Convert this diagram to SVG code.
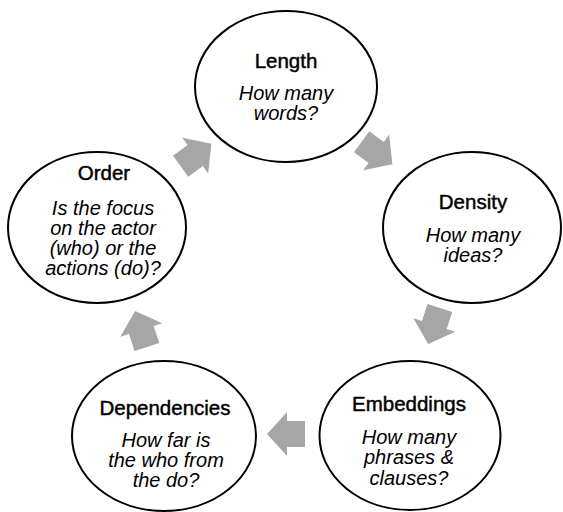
<svg xmlns="http://www.w3.org/2000/svg" width="563" height="512" viewBox="0 0 563 512">
<style>
.node ellipse{fill:#fff;stroke:#000;stroke-width:2}
.t{font-family:"Liberation Sans",Arial,sans-serif;font-size:20.5px;font-weight:normal;text-anchor:middle;fill:#000;stroke:#000;stroke-width:0.45}
.q{font-family:"Liberation Sans",Arial,sans-serif;font-size:20px;font-style:italic;text-anchor:middle;fill:#000}
.arr{fill:#a6a6a6}
</style>
<defs>
<polygon id="blk" points="-19,-13 -1,-13 -1,-22 19,0 -1,22 -1,13 -19,13"/>
</defs>
<rect width="563" height="512" fill="#fff"/>
<g id="connectors" class="arr">
<use href="#blk" transform="translate(196,155) rotate(-36)"/>
<use href="#blk" transform="translate(377,153) rotate(36)"/>
<use href="#blk" transform="translate(434,326) rotate(108)"/>
<use href="#blk" transform="translate(286,434) rotate(180)"/>
<use href="#blk" transform="translate(141,329) rotate(252)"/>
</g>
<g id="length" class="node">
<ellipse cx="286" cy="86.5" rx="91" ry="75.5"/>
<text class="t" x="286" y="68">Length</text>
<text class="q" x="286" y="100">How many</text>
<text class="q" x="286" y="120">words?</text>
</g>
<g id="density" class="node">
<ellipse cx="472" cy="227.5" rx="89" ry="75.5"/>
<text class="t" x="473" y="209">Density</text>
<text class="q" x="473" y="242">How many</text>
<text class="q" x="473" y="262">ideas?</text>
</g>
<g id="embeddings" class="node">
<ellipse cx="410" cy="435.5" rx="90.5" ry="74.5"/>
<text class="t" x="409" y="411">Embeddings</text>
<text class="q" x="409" y="444">How many</text>
<text class="q" x="409" y="464">phrases &amp;</text>
<text class="q" x="409" y="485">clauses?</text>
</g>
<g id="dependencies" class="node">
<ellipse cx="164" cy="436" rx="92" ry="75"/>
<text class="t" x="165" y="415">Dependencies</text>
<text class="q" x="166" y="447">How far is</text>
<text class="q" x="166" y="467">the who from</text>
<text class="q" x="166" y="487">the do?</text>
</g>
<g id="order" class="node">
<ellipse cx="97" cy="227.5" rx="89" ry="75.5"/>
<text class="t" x="104" y="180">Order</text>
<text class="q" x="103" y="215">Is the focus</text>
<text class="q" x="103" y="235">on the actor</text>
<text class="q" x="103" y="255">(who) or the</text>
<text class="q" x="103" y="275">actions (do)?</text>
</g>
</svg>
